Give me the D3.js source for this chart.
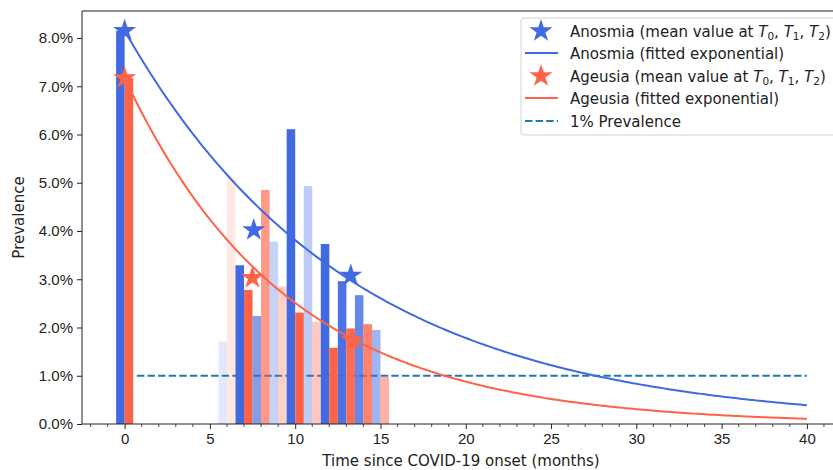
<!DOCTYPE html>
<html>
<head>
<meta charset="utf-8">
<script src="https://cdn.jsdelivr.net/npm/d3@7"></script>
<style>
  body { margin: 0; background: #fff; }
  svg { font-family: "DejaVu Sans", sans-serif; }
</style>
</head>
<body>
<div id="chart"></div>
<script>
// bar data (prevalence %, per month)
var barMonths   = [0, 6, 7, 8, 9, 10, 11, 12, 13, 14, 15];
var anosmiaBars = [8.15, 1.71, 3.29, 2.24, 3.78, 6.11, 4.93, 3.73, 2.96, 2.67, 1.95];
var ageusiaBars = [7.17, 5.09, 2.78, 4.85, 2.85, 2.31, 2.12, 1.58, 1.98, 2.07, 0.98];
var barAlpha    = [1, 0.15, 1, 0.65, 0.3, 1, 0.35, 1, 0.95, 0.8, 0.5];

// mean values at T0, T1, T2
var anosmiaStars = [{t: 0, v: 8.15}, {t: 7.57, v: 4.02}, {t: 13.26, v: 3.08}];
var ageusiaStars = [{t: 0, v: 7.17}, {t: 7.49, v: 3.03}, {t: 13.35, v: 1.74}];

// fitted exponential  v = a * exp(-b t)
var anosmiaFit = {a: 8.15, b: 0.076};
var ageusiaFit = {a: 7.17, b: 0.105};

var xTicks = [0, 5, 10, 15, 20, 25, 30, 35, 40];
var yTicks = [0, 1, 2, 3, 4, 5, 6, 7, 8];

var blue = "#4169e1", red = "#ff6347", dashBlue = "#1f77b4";
var W = 833, H = 470;
var padL = 82, padT = 11, padB = 424, padR = 841;
var fs = 15;

var svg = d3.select("#chart").append("svg")
  .attr("width", W).attr("height", H);

var x = d3.scaleLinear().domain([-2.5, 42]).range([padL, padR]);
var y = d3.scaleLinear().domain([0, 8.56]).range([padB, padT]);

// 1% prevalence line (under the bars)
svg.append("line")
  .attr("x1", x(0.72)).attr("x2", x(40))
  .attr("y1", y(1)).attr("y2", y(1))
  .attr("stroke", dashBlue).attr("stroke-width", 2)
  .attr("stroke-dasharray", "7.4,3.2");

// bars
var bw = 0.5;
var g = svg.append("g");
barMonths.forEach(function(m, i) {
  g.append("rect")
    .attr("x", x(m - bw)).attr("width", x(m) - x(m - bw))
    .attr("y", y(anosmiaBars[i])).attr("height", y(0) - y(anosmiaBars[i]))
    .attr("fill", blue).attr("fill-opacity", barAlpha[i]);
  g.append("rect")
    .attr("x", x(m)).attr("width", x(m + bw) - x(m))
    .attr("y", y(ageusiaBars[i])).attr("height", y(0) - y(ageusiaBars[i]))
    .attr("fill", red).attr("fill-opacity", barAlpha[i]);
});

// fitted curves
var ts = d3.range(0, 40.01, 0.2);
var line = d3.line().x(function(d) { return x(d[0]); }).y(function(d) { return y(d[1]); });
function fit(p) { return ts.map(function(t) { return [t, p.a * Math.exp(-p.b * t)]; }); }
svg.append("path").attr("d", line(fit(anosmiaFit)))
  .attr("fill", "none").attr("stroke", blue).attr("stroke-width", 2);
svg.append("path").attr("d", line(fit(ageusiaFit)))
  .attr("fill", "none").attr("stroke", red).attr("stroke-width", 2);

// stars
var star = d3.symbol().type(d3.symbolStar).size(165);
function stars(data, col) {
  svg.selectAll(null).data(data).enter().append("path")
    .attr("d", star)
    .attr("transform", function(d) { return "translate(" + x(d.t) + "," + y(d.v) + ")"; })
    .attr("fill", col);
}
stars(anosmiaStars, blue);
stars(ageusiaStars, red);

// axes
var xAxis = d3.axisBottom(x).tickValues(xTicks).tickSize(5).tickPadding(4);
var gx = svg.append("g").attr("transform", "translate(0," + padB + ")").call(xAxis);
gx.selectAll("text").attr("font-size", fs).attr("fill", "#222");
gx.select(".domain").remove();
gx.selectAll(".tick line").attr("stroke", "#222");
var minor = d3.range(-2, 42, 1).filter(function(v) { return v % 5 !== 0; });
gx.selectAll(".minor").data(minor).enter().append("line")
  .attr("x1", function(d) { return x(d); }).attr("x2", function(d) { return x(d); })
  .attr("y1", 0).attr("y2", 3).attr("stroke", "#222").attr("stroke-width", 0.8);

var yAxis = d3.axisLeft(y).tickValues(yTicks).tickSize(5).tickPadding(4)
  .tickFormat(function(d) { return d3.format(".1f")(d) + "%"; });
var gy = svg.append("g").attr("transform", "translate(" + padL + ",0)").call(yAxis);
gy.selectAll("text").attr("font-size", fs).attr("fill", "#222");
gy.select(".domain").remove();
gy.selectAll(".tick line").attr("stroke", "#222");

// spines
svg.append("path")
  .attr("d", "M" + padR + "," + padB + "H" + padL + "V" + padT + "H" + padR)
  .attr("fill", "none").attr("stroke", "#222").attr("stroke-width", 1);

// axis labels
svg.append("text").attr("x", 461).attr("y", 466).attr("text-anchor", "middle")
  .attr("font-size", fs).attr("fill", "#222").text("Time since COVID-19 onset (months)");
svg.append("text").attr("transform", "translate(24,217.5) rotate(-90)")
  .attr("text-anchor", "middle").attr("font-size", fs).attr("fill", "#222").text("Prevalence");

// legend
var lg = svg.append("g");
lg.append("rect").attr("x", 521).attr("y", 18).attr("width", 318).attr("height", 117)
  .attr("rx", 3).attr("fill", "#fff").attr("fill-opacity", 0.8)
  .attr("stroke", "#d0d0d0");
var items = [
  {kind: "star", col: blue, name: "Anosmia", math: true},
  {kind: "line", col: blue, label: "Anosmia (fitted exponential)"},
  {kind: "star", col: red, name: "Ageusia", math: true},
  {kind: "line", col: red, label: "Ageusia (fitted exponential)"},
  {kind: "dash", col: dashBlue, label: "1% Prevalence"}
];
var rowY = [31, 53, 76, 98, 121];
items.forEach(function(it, i) {
  var cy = rowY[i];
  if (it.kind === "star") {
    lg.append("path").attr("d", star).attr("fill", it.col)
      .attr("transform", "translate(541," + cy + ")");
  } else {
    lg.append("line").attr("x1", 525).attr("x2", 558).attr("y1", cy).attr("y2", cy)
      .attr("stroke", it.col).attr("stroke-width", 2)
      .attr("stroke-dasharray", it.kind === "dash" ? "7.4,3.2" : null);
  }
  var t = lg.append("text").attr("x", 570).attr("y", cy + 5.5)
    .attr("font-size", fs).attr("fill", "#222");
  if (it.math) {
    t.append("tspan").text(it.name + " (mean value at ");
    ["0", "1", "2"].forEach(function(s, k) {
      t.append("tspan").attr("font-style", "italic").text("T");
      t.append("tspan").attr("font-size", 10.5).attr("dy", 3).text(s);
      t.append("tspan").attr("dy", -3).text(k < 2 ? ", " : ")");
    });
  } else {
    t.text(it.label);
  }
});
</script>
</body>
</html>
